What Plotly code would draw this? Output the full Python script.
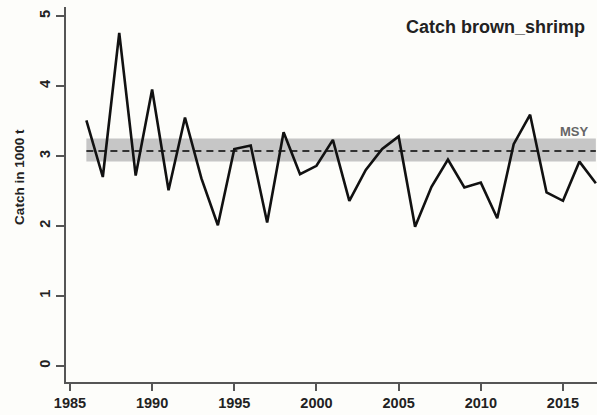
import plotly.graph_objects as go

years = list(range(1986, 2018))
catch = [3.51, 2.70, 4.76, 2.72, 3.95, 2.51, 3.55, 2.68, 2.01, 3.10,
         3.15, 2.05, 3.34, 2.74, 2.86, 3.23, 2.36, 2.80, 3.10, 3.28,
         1.99, 2.56, 2.95, 2.55, 2.62, 2.11, 3.17, 3.59, 2.48, 2.36,
         2.92, 2.61]
msy = 3.07
msy_low = 2.92
msy_high = 3.25
x_ticks = [1985, 1990, 1995, 2000, 2005, 2010, 2015]
y_ticks = [0, 1, 2, 3, 4, 5]

FONT = "Liberation Sans, Arial, sans-serif"

fig = go.Figure()
# MSY band
fig.add_trace(go.Scatter(
    x=years + years[::-1],
    y=[msy_high] * len(years) + [msy_low] * len(years),
    fill="toself", fillcolor="#c6c6c6", line=dict(width=0),
    mode="lines", hoverinfo="skip", showlegend=False))
# MSY dashed line
fig.add_trace(go.Scatter(
    x=years, y=[msy] * len(years), mode="lines",
    line=dict(color="#333333", width=2, dash="7px,5px"),
    showlegend=False))
# Catch line
fig.add_trace(go.Scatter(
    x=years, y=catch, mode="lines",
    line=dict(color="#111111", width=2.6),
    showlegend=False))

fig.add_annotation(text="<b>Catch brown_shrimp</b>", xref="paper", yref="paper",
                   x=1, y=0.947, xanchor="right", yanchor="middle", xshift=-10,
                   showarrow=False, font=dict(family=FONT, size=18, color="#222222"))
fig.add_annotation(text="<b>MSY</b>", xref="x", yref="y",
                   x=2015.7, y=3.35, xanchor="center", yanchor="middle",
                   showarrow=False, font=dict(family=FONT, size=13, color="#666666"))
fig.add_annotation(text="<b>Catch in 1000 t</b>", xref="paper", yref="paper",
                   x=0, y=0.547, xanchor="center", yanchor="middle", xshift=-46,
                   textangle=-90, showarrow=False,
                   font=dict(family=FONT, size=13.5, color="#222222"))

fig.update_layout(
    width=597, height=415,
    margin=dict(l=66, r=0, t=7, b=33),
    paper_bgcolor="#fdfdfa", plot_bgcolor="#fdfdfa",
    font=dict(family=FONT, color="#222222"),
    xaxis=dict(range=[1984.76, 2017.07], tickvals=x_ticks,
               ticktext=[f"<b>{v}</b>" for v in x_ticks],
               ticks="outside", ticklen=7, tickwidth=1.5, tickcolor="#555555",
               showline=True, linecolor="#555555", linewidth=1.6,
               showgrid=False, zeroline=False,
               tickfont=dict(family=FONT, size=14.5, color="#222222")),
    yaxis=dict(range=[-0.229, 5.129], tickvals=y_ticks,
               ticktext=[f"<b>{v}</b>" for v in y_ticks],
               ticks="outside", ticklen=8, tickwidth=1.5, tickcolor="#555555",
               showline=True, linecolor="#555555", linewidth=1.6,
               showgrid=False, zeroline=False, tickangle=-90,
               tickfont=dict(family=FONT, size=14.5, color="#222222")),
)

fig.write_html(
    "out.html",
    config={"displayModeBar": False},
    post_script="document.body.style.margin='0';document.body.style.padding='0';"
                "document.body.style.overflow='hidden';",
)
